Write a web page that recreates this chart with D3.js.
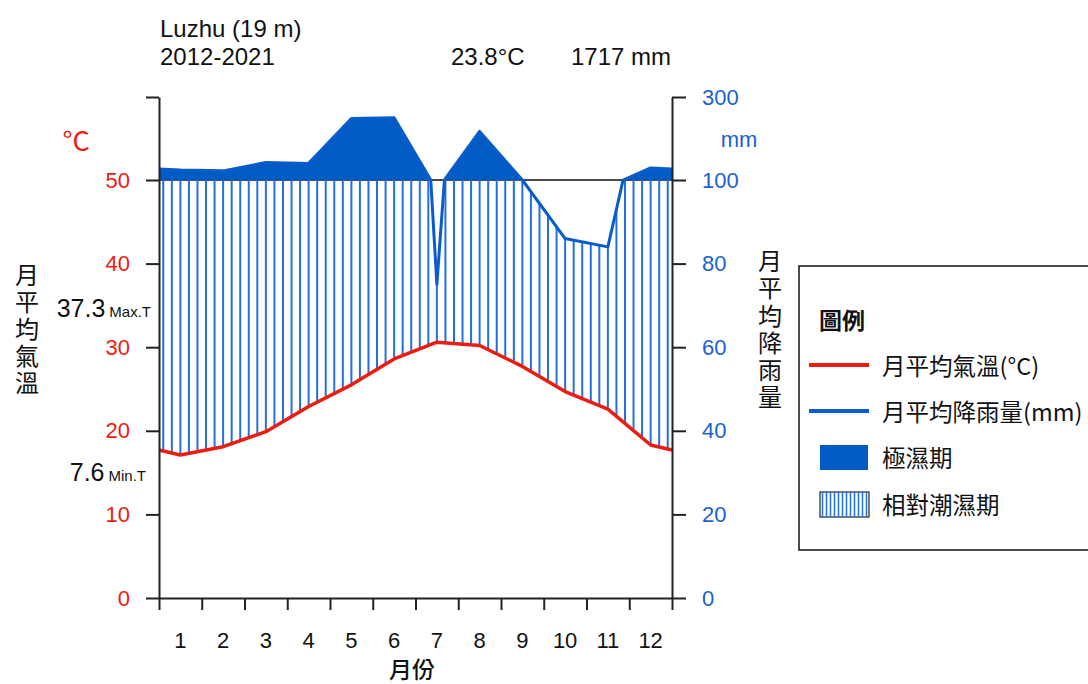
<!DOCTYPE html>
<html>
<head>
<meta charset="utf-8">
<script src="https://cdn.jsdelivr.net/npm/d3@7"></script>
<style>
  body { margin: 0; background: #fff; }
  svg { display: block; }
</style>
</head>
<body>
<svg id="chart" width="1088" height="684"></svg>
<script>
// Luzhu climate diagram (Walter-Lieth style)
const months = [1, 2, 3, 4, 5, 6, 7, 8, 9, 10, 11, 12];
const tempC = [17.1, 18.1, 19.9, 22.9, 25.5, 28.6, 30.6, 30.2, 27.7, 24.7, 22.6, 18.3];
const rainMm = [124, 122, 142, 140, 248, 250, 75, 217, 100, 86, 84, 129];
const rainTicks = [0, 20, 40, 60, 80, 100, 300];
const station = "Luzhu (19 m)";
const period = "2012-2021";
const meanTemp = "23.8°C";
const totalRain = "1717 mm";
const maxT = "37.3", minT = "7.6";

const numFont = "'Liberation Sans', Arial, sans-serif";
const cjkFont = "'Noto Sans CJK TC', 'Noto Sans', sans-serif";
const red = "#ee1c10", blue = "#0a5ccc", fillBlue = "#005bc5", hatchBlue = "#2270de", tickBlue = "#1a62d2";

svg = d3.select("#chart");

x = d3.scaleLinear().domain([0, 12]).range([159, 672]);
yP = d3.scaleLinear().domain([0, 100, 300]).range([598, 180, 97]);
yT = d3.scaleLinear().domain([0, 50]).range([598, 180]);

// extend series to the plot edges (mean of Dec and Jan)
edgeT = (tempC[0] + tempC[11]) / 2;
edgeP = (rainMm[0] + rainMm[11]) / 2;
tPts = [{x: 0, v: edgeT}].concat(tempC.map((v, i) => ({x: i + 0.5, v: v})), [{x: 12, v: edgeT}]);
pRaw = [{x: 0, v: edgeP}].concat(rainMm.map((v, i) => ({x: i + 0.5, v: v})), [{x: 12, v: edgeP}]);

// insert crossings of the 100 mm line (in data space)
pPts = [];
pRaw.forEach((p, i) => {
    if (i > 0) {
        const a = pRaw[i - 1];
        if ((a.v - 100) * (p.v - 100) < 0) {
            const f = (100 - a.v) / (p.v - a.v);
            pPts.push({x: a.x + f * (p.x - a.x), v: 100});
        }
    }
    pPts.push(p);
});

function interp(pts, xv) {
    for (let i = 1; i < pts.length; i++) {
        if (xv <= pts[i].x) {
            const a = pts[i - 1], b = pts[i];
            return a.v + (b.v - a.v) * (xv - a.x) / (b.x - a.x);
        }
    }
    return pts[pts.length - 1].v;
}

// 100 mm / 50 °C line
svg.append("line")
    .attr("x1", x(0)).attr("x2", x(12))
    .attr("y1", yP(100)).attr("y2", yP(100))
    .attr("stroke", "#111").attr("stroke-width", 1.6);

// hatching (relatively humid)
hatchX = d3.range(60).map(k => (k + 0.5) * 12 / 60);
svg.append("g").selectAll("line")
    .data(hatchX.filter(h => Math.min(interp(pPts, h), 100) / 2 > interp(tPts, h)))
    .join("line")
    .attr("x1", d => x(d)).attr("x2", d => x(d))
    .attr("y1", d => yP(Math.min(interp(pPts, d), 100)))
    .attr("y2", d => yT(interp(tPts, d)))
    .attr("stroke", hatchBlue).attr("stroke-width", 2);

// very humid fill
svg.append("path")
    .datum(pPts)
    .attr("d", d3.area().x(d => x(d.x)).y0(yP(100)).y1(d => yP(Math.max(d.v, 100))))
    .attr("fill", fillBlue);

// precipitation line
svg.append("path")
    .datum(pPts)
    .attr("d", d3.line().x(d => x(d.x)).y(d => yP(d.v)))
    .attr("fill", "none").attr("stroke", blue).attr("stroke-width", 3)
    .attr("stroke-linejoin", "round");

// temperature line
svg.append("path")
    .datum(tPts)
    .attr("d", d3.line().x(d => x(d.x)).y(d => yT(d.v)))
    .attr("fill", "none").attr("stroke", red).attr("stroke-width", 3.5)
    .attr("stroke-linejoin", "round");

// axes
leftAxis = svg.append("g").attr("transform", `translate(${x(0)},0)`)
    .call(d3.axisLeft(yP).tickValues(rainTicks).tickFormat(d => d > 100 ? "" : d / 2)
        .tickSize(13).tickSizeOuter(0).tickPadding(16));
rightAxis = svg.append("g").attr("transform", `translate(${x(12)},0)`)
    .call(d3.axisRight(yP).tickValues(rainTicks)
        .tickSize(14).tickSizeOuter(0).tickPadding(16));
bottomAxis = svg.append("g").attr("transform", `translate(0,${yP(0)})`)
    .call(d3.axisBottom(x).tickValues(d3.range(0, 13)).tickFormat("")
        .tickSize(12).tickSizeOuter(0));

[leftAxis, rightAxis, bottomAxis].forEach(a => {
    a.selectAll("path, line").attr("stroke", "#222").attr("stroke-width", 2);
    a.selectAll("text").attr("font-family", numFont).attr("font-size", 22);
});
leftAxis.selectAll("text").attr("fill", red);
rightAxis.selectAll("text").attr("fill", tickBlue);

svg.append("g").selectAll("text")
    .data(months)
    .join("text")
    .attr("x", d => x(d - 0.5)).attr("y", 640)
    .attr("dominant-baseline", "central")
    .attr("text-anchor", "middle")
    .attr("font-family", numFont).attr("font-size", 22).attr("fill", "#111")
    .text(d => d);

// unit labels
svg.append("text").attr("x", 76).attr("y", 151).attr("text-anchor", "middle")
    .attr("font-family", cjkFont).attr("font-size", 27).attr("fill", red).text("°C");
svg.append("text").attr("x", 739).attr("y", 147).attr("text-anchor", "middle")
    .attr("font-family", numFont).attr("font-size", 22).attr("fill", tickBlue).text("mm");

// header
header = [
    {t: station, x: 160, y: 37},
    {t: period, x: 160, y: 65},
    {t: meanTemp, x: 451, y: 65},
    {t: totalRain, x: 571, y: 65}
];
svg.append("g").selectAll("text").data(header).join("text")
    .attr("x", d => d.x).attr("y", d => d.y)
    .attr("font-family", numFont).attr("font-size", 24).attr("fill", "#111")
    .text(d => d.t);

// extremes
function extreme(val, tag, xr, yc) {
    const t = svg.append("text").attr("x", xr).attr("y", yc).attr("text-anchor", "end")
        .attr("font-family", numFont).attr("fill", "#111");
    t.append("tspan").attr("font-size", 25).text(val);
    t.append("tspan").attr("font-size", 15).attr("dx", 4).text(tag);
}
extreme(maxT, "Max.T", 151, 317);
extreme(minT, "Min.T", 146, 481);

// vertical axis titles
function stacked(str, cx, y0, step) {
    svg.append("text")
        .attr("transform", `translate(${cx},${y0})`)
        .style("writing-mode", "vertical-rl")
        .style("text-orientation", "upright")
        .attr("letter-spacing", step - 24)
        .attr("font-family", cjkFont).attr("font-size", 24).attr("fill", "#111")
        .text(str);
}
stacked("月平均氣溫", 27, 263, 27);
stacked("月平均降雨量", 770, 249, 27.2);

svg.append("text").attr("x", 412).attr("y", 668).attr("text-anchor", "middle")
    .attr("dominant-baseline", "central")
    .attr("font-family", cjkFont).attr("font-size", 23).attr("font-weight", 500)
    .attr("fill", "#111").text("月份");

// legend
lg = svg.append("g");
lg.append("rect").attr("x", 799).attr("y", 266).attr("width", 320).attr("height", 284)
    .attr("fill", "#fff").attr("stroke", "#111").attr("stroke-width", 1.5);
lg.append("text").attr("x", 819).attr("y", 329)
    .attr("font-family", cjkFont).attr("font-size", 23).attr("font-weight", 700)
    .attr("fill", "#111").text("圖例");
legendItems = [
    {label: "月平均氣溫(°C)", kind: "line", color: red, y: 365},
    {label: "月平均降雨量(mm)", kind: "line", color: blue, y: 411},
    {label: "極濕期", kind: "fill", color: fillBlue, y: 457},
    {label: "相對潮濕期", kind: "hatch", color: hatchBlue, y: 504}
];
legendItems.forEach(it => {
    if (it.kind === "line") {
        lg.append("line").attr("x1", 809).attr("x2", 869).attr("y1", it.y).attr("y2", it.y)
            .attr("stroke", it.color).attr("stroke-width", 4);
    } else if (it.kind === "fill") {
        lg.append("rect").attr("x", 820).attr("y", it.y - 12).attr("width", 48).attr("height", 25)
            .attr("fill", it.color);
    } else {
        lg.append("rect").attr("x", 820).attr("y", it.y - 12).attr("width", 49).attr("height", 25)
            .attr("fill", "#fff").attr("stroke", "#222").attr("stroke-width", 1.2);
        lg.append("g").selectAll("line").data(d3.range(12)).join("line")
            .attr("x1", k => 822.5 + k * 4).attr("x2", k => 822.5 + k * 4)
            .attr("y1", it.y - 12).attr("y2", it.y + 13)
            .attr("stroke", it.color).attr("stroke-width", 1.5);
    }
    lg.append("text").attr("x", 882).attr("y", it.y).attr("dominant-baseline", "central")
        .attr("font-family", cjkFont).attr("font-size", 23.5).attr("fill", "#111")
        .text(it.label);
});
</script>
</body>
</html>
